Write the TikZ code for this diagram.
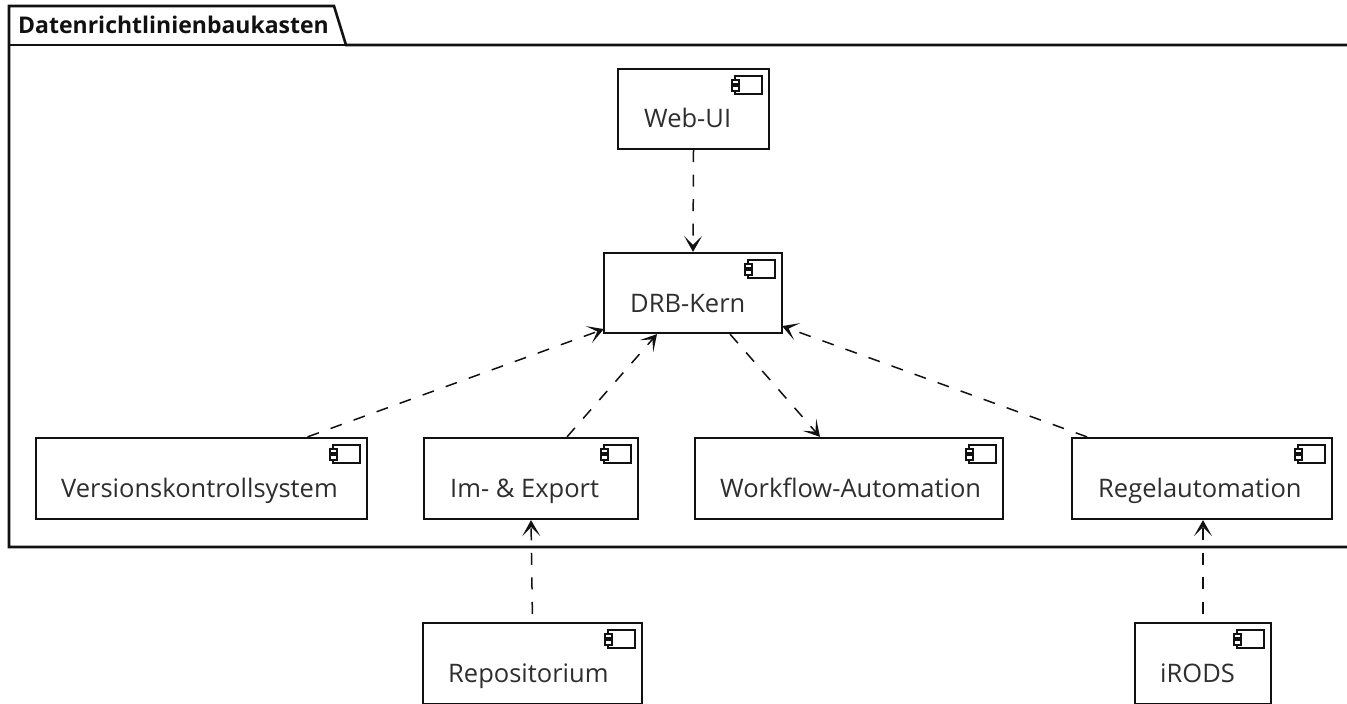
\documentclass[tikz,border=0pt]{standalone}
\usepackage{fontspec}
\setmainfont{Open Sans}
\usetikzlibrary{arrows.meta}
\definecolor{ink}{HTML}{111111}
\definecolor{labelcol}{HTML}{2E2E2E}
\newcommand{\cmpicon}[1]{%
  \draw[iconline] ([xshift=-8,yshift=-8]#1.north east) rectangle ([xshift=-35,yshift=-26]#1.north east);
  \draw[iconline,fill=white] ([xshift=-38,yshift=-12]#1.north east) rectangle ([xshift=-31,yshift=-16]#1.north east);
  \draw[iconline,fill=white] ([xshift=-38,yshift=-18]#1.north east) rectangle ([xshift=-31,yshift=-23]#1.north east);
}
\tikzset{
  x=1pt,y=-1pt,
  comp/.style={draw=ink,line width=2.2pt,fill=white,inner sep=0pt},
  lab/.style={font=\fontsize{25.5}{30}\selectfont,text=labelcol,anchor=base west,inner sep=0pt},
  iconline/.style={draw=ink,line width=1.7pt},
  frame/.style={draw=ink,line width=2.6pt},
  dep/.style={draw=ink,line width=1.5pt,dash pattern=on 12pt off 12.5pt,-{Stealth[length=16pt,width=18pt,inset=9pt]}},
  depfar/.style={dep,dash phase=16.5pt},
}
\begin{document}
\begin{tikzpicture}
\useasboundingbox (0,0) rectangle (1347,704);
\clip (0,0) rectangle (1347,704);
\draw[frame] (1360,45) -- (346,45) -- (334,6) -- (9,6) -- (9,547) -- (1360,547);
\draw[frame] (9,45) -- (346,45);
\node[lab,font=\fontsize{23}{28}\selectfont\bfseries,text=ink] (title) at (18,33) {Datenrichtlinienbaukasten};
\node[comp,minimum width=151,minimum height=80] (web) at (693.5,109) {};
\node[comp,minimum width=178,minimum height=80] (drb) at (693,293) {};
\node[comp,minimum width=331,minimum height=81] (vcs) at (201.5,478.5) {};
\node[comp,minimum width=214,minimum height=81] (imex) at (531,478.5) {};
\node[comp,minimum width=308,minimum height=81] (wf) at (849,478.5) {};
\node[comp,minimum width=260,minimum height=81] (regel) at (1202,478.5) {};
\node[comp,minimum width=219,minimum height=81] (repo) at (532.5,663.5) {};
\node[comp,minimum width=136,minimum height=81] (irods) at (1203,663.5) {};
\node[lab] (tweb) at (644,127) {Web-UI};
\node[lab] (tdrb) at (630,312) {DRB-Kern};
\node[lab] (tvcs) at (61,497) {Versionskontrollsystem};
\node[lab] (timex) at (450,497) {Im- \& Export};
\node[lab] (twf) at (720,497) {Workflow-Automation};
\node[lab] (tregel) at (1098,497) {Regelautomation};
\node[lab] (trepo) at (448,682) {Repositorium};
\node[lab] (tirods) at (1160,682) {iRODS};
\cmpicon{web}\cmpicon{drb}\cmpicon{vcs}\cmpicon{imex}\cmpicon{wf}\cmpicon{regel}\cmpicon{repo}\cmpicon{irods}
\draw[dep] (web.south) -- (drb.north);
\draw[dep] ([xshift=106]vcs.north) -- ([yshift=5,xshift=1]drb.south west);
\draw[dep] ([xshift=36]imex.north) -- ([xshift=-36]drb.south);
\draw[dep] ([xshift=37]drb.south) -- ([xshift=-29]wf.north);
\draw[dep] ([xshift=-115]regel.north) -- ([yshift=8,xshift=-1]drb.south east);
\draw[depfar] (repo.north) -- (imex.south);
\draw[depfar] (irods.north) -- ([xshift=1]regel.south);
\end{tikzpicture}
\end{document}
